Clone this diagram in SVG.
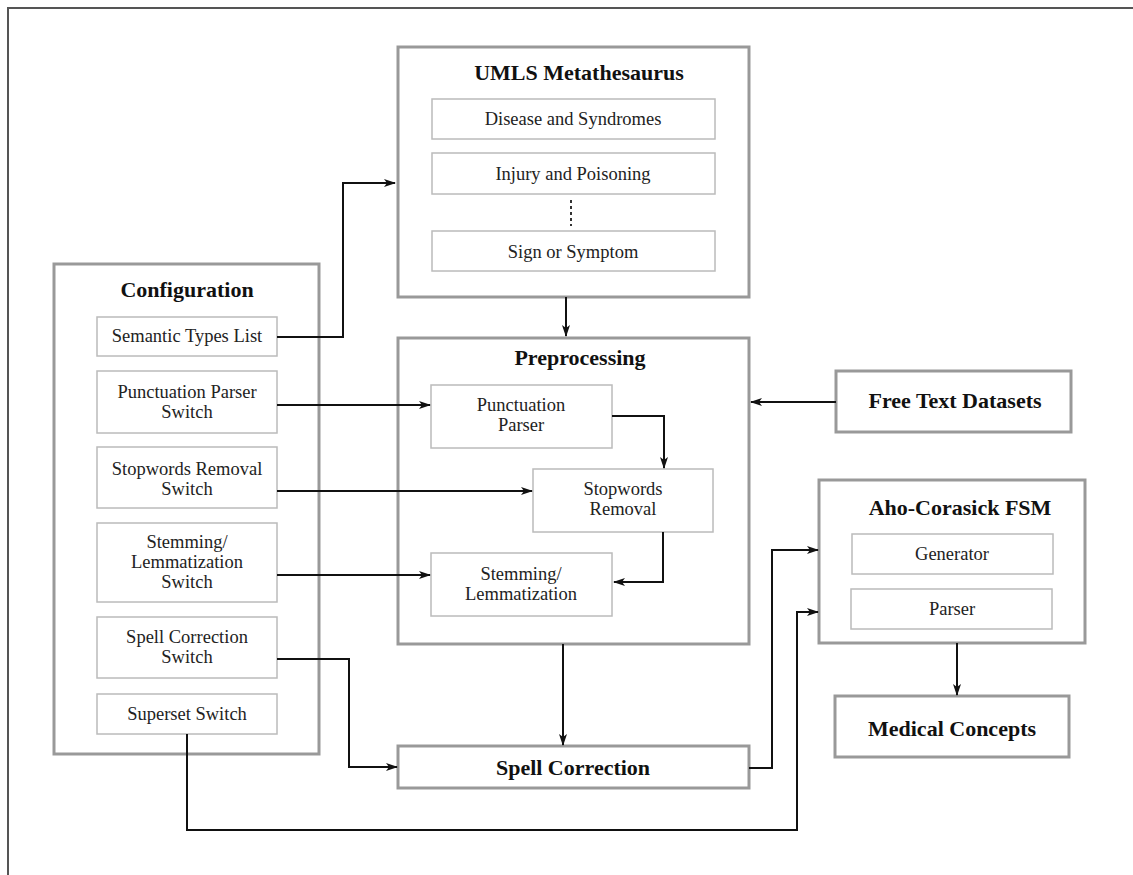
<svg xmlns="http://www.w3.org/2000/svg" width="1133" height="875" viewBox="0 0 1133 875">
<defs>
<marker id="ah" viewBox="0 0 12 8" refX="11" refY="4" markerWidth="12" markerHeight="8" markerUnits="userSpaceOnUse" orient="auto">
<path d="M0,0 L12,4 L0,8 L3,4 Z" fill="#111"/>
</marker>
</defs>
<style>
.outer{fill:#fff;stroke:#999;stroke-width:3}
.inner{fill:#fff;stroke:#bbb;stroke-width:1.5}
.title{font-family:"Liberation Serif","Times New Roman",serif;font-weight:bold;font-size:22px;fill:#111;text-anchor:middle}
.lbl{font-family:"Liberation Serif","Times New Roman",serif;font-size:18.5px;fill:#222;text-anchor:middle}
.conn{fill:none;stroke:#111;stroke-width:2}
</style>
<rect width="1133" height="875" fill="#fff"/>
<path d="M8,875 L8,8 L1133,8" fill="none" stroke="#555" stroke-width="2"/>

<g id="umls">
<rect class="outer" x="398" y="47" width="351" height="250"/>
<text class="title" x="579" y="80">UMLS Metathesaurus</text>
<rect class="inner" x="432" y="99" width="283" height="40"/>
<text class="lbl" x="573" y="125">Disease and Syndromes</text>
<rect class="inner" x="432" y="153" width="283" height="41"/>
<text class="lbl" x="573" y="180">Injury and Poisoning</text>
<line x1="571" y1="200" x2="571" y2="226" stroke="#333" stroke-width="2" stroke-dasharray="3,3"/>
<rect class="inner" x="432" y="231" width="283" height="40"/>
<text class="lbl" x="573" y="258">Sign or Symptom</text>
</g>

<g id="configuration">
<rect class="outer" x="54" y="264" width="265" height="490"/>
<text class="title" x="187" y="297">Configuration</text>
<rect class="inner" x="97" y="317" width="180" height="39"/>
<text class="lbl" x="187" y="342">Semantic Types List</text>
<rect class="inner" x="97" y="371" width="180" height="62"/>
<text class="lbl" x="187" y="398">Punctuation Parser</text>
<text class="lbl" x="187" y="418">Switch</text>
<rect class="inner" x="97" y="447" width="180" height="61"/>
<text class="lbl" x="187" y="475">Stopwords Removal</text>
<text class="lbl" x="187" y="495">Switch</text>
<rect class="inner" x="97" y="523" width="180" height="79"/>
<text class="lbl" x="187" y="548">Stemming/</text>
<text class="lbl" x="187" y="568">Lemmatization</text>
<text class="lbl" x="187" y="588">Switch</text>
<rect class="inner" x="97" y="617" width="180" height="61"/>
<text class="lbl" x="187" y="643">Spell Correction</text>
<text class="lbl" x="187" y="663">Switch</text>
<rect class="inner" x="97" y="694" width="180" height="40"/>
<text class="lbl" x="187" y="720">Superset Switch</text>
</g>

<g id="preprocessing">
<rect class="outer" x="398" y="338" width="351" height="306"/>
<text class="title" x="580" y="365">Preprocessing</text>
<rect class="inner" x="431" y="385" width="181" height="63"/>
<text class="lbl" x="521" y="411">Punctuation</text>
<text class="lbl" x="521" y="431">Parser</text>
<rect class="inner" x="533" y="469" width="180" height="63"/>
<text class="lbl" x="623" y="495">Stopwords</text>
<text class="lbl" x="623" y="515">Removal</text>
<rect class="inner" x="431" y="553" width="181" height="63"/>
<text class="lbl" x="521" y="580">Stemming/</text>
<text class="lbl" x="521" y="600">Lemmatization</text>
</g>

<g id="free-text">
<rect class="outer" x="836" y="371" width="235" height="61"/>
<text class="title" x="955" y="408">Free Text Datasets</text>
</g>

<g id="aho-corasick">
<rect class="outer" x="819" y="480" width="266" height="163"/>
<text class="title" x="960" y="515">Aho-Corasick FSM</text>
<rect class="inner" x="852" y="534" width="201" height="40"/>
<text class="lbl" x="952" y="560">Generator</text>
<rect class="inner" x="851" y="589" width="201" height="40"/>
<text class="lbl" x="952" y="615">Parser</text>
</g>

<g id="medical-concepts">
<rect class="outer" x="835" y="696" width="234" height="61"/>
<text class="title" x="952" y="736">Medical Concepts</text>
</g>

<g id="spell-correction">
<rect class="outer" x="398" y="746" width="351" height="42"/>
<text class="title" x="573" y="775">Spell Correction</text>
</g>

<g id="connectors">
<path class="conn" d="M277,337 H343 V183 H395" marker-end="url(#ah)"/>
<path class="conn" d="M566,297 V336" marker-end="url(#ah)"/>
<path class="conn" d="M277,405 H430" marker-end="url(#ah)"/>
<path class="conn" d="M277,491 H532" marker-end="url(#ah)"/>
<path class="conn" d="M277,575 H430" marker-end="url(#ah)"/>
<path class="conn" d="M612,416 H664 V468" marker-end="url(#ah)"/>
<path class="conn" d="M663,532 V582 H614" marker-end="url(#ah)"/>
<path class="conn" d="M836,402 H751" marker-end="url(#ah)"/>
<path class="conn" d="M563,644 V745" marker-end="url(#ah)"/>
<path class="conn" d="M277,659 H349 V767 H397" marker-end="url(#ah)"/>
<path class="conn" d="M749,768 H772 V550 H818" marker-end="url(#ah)"/>
<path class="conn" d="M187,734 V830 H797 V612 H818" marker-end="url(#ah)"/>
<path class="conn" d="M957,643 V695" marker-end="url(#ah)"/>
</g>
</svg>
